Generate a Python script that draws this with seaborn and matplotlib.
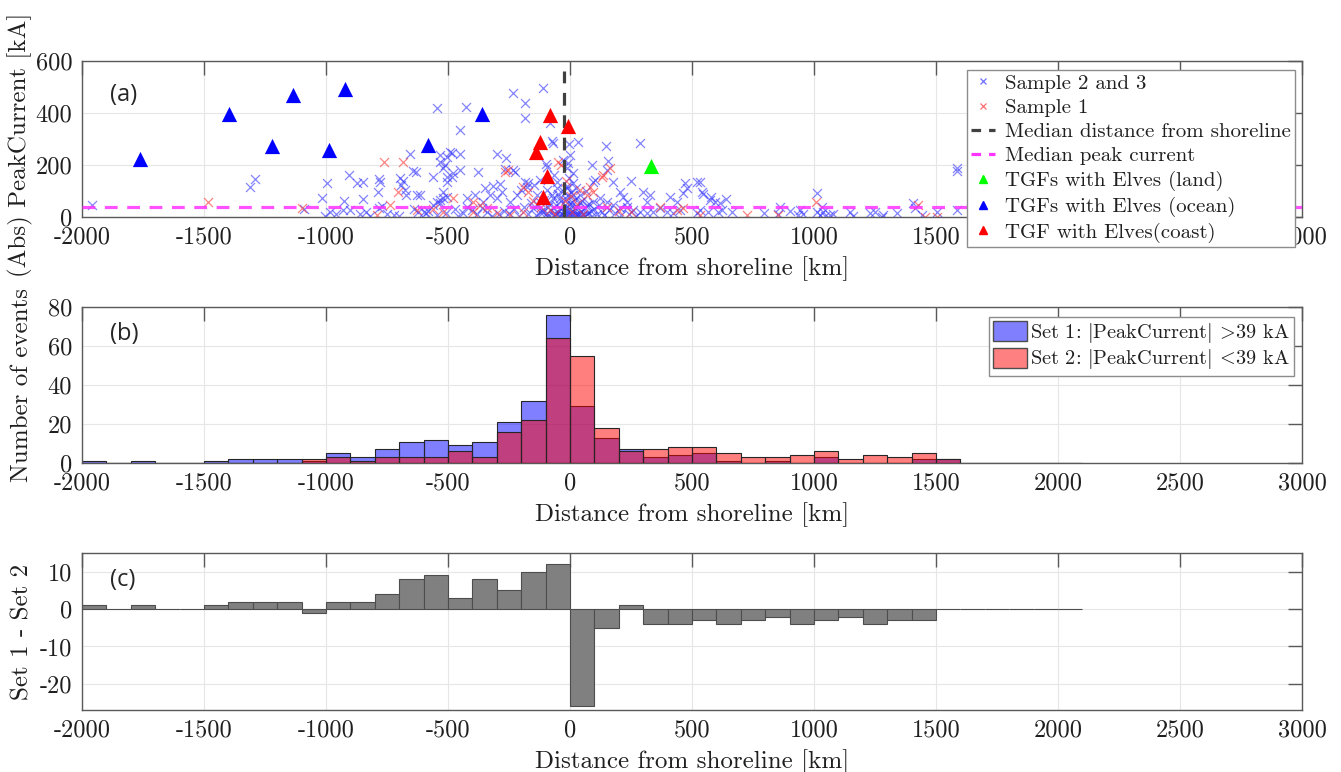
import warnings
warnings.filterwarnings("ignore")
import numpy as np
import matplotlib
matplotlib.use("Agg")
import matplotlib.pyplot as plt
import seaborn as sns
from matplotlib.lines import Line2D
from matplotlib.patches import Patch

# ---------------- data ----------------
# Panel (a): Sample 2 and 3 (blue crosses), (distance km, |peak current| kA)
s23_points = [
    (-1958, 46), (-1311, 117), (-1291, 145), (-1015, 72), (-997, 132), (-1004, 3), (-984, 20),
    (-926, 62), (-904, 161), (-929, 27), (-902, 27), (-874, 130), (-850, 136), (-847, 69),
    (-836, 20), (-786, 97), (-783, 145), (-779, 136), (-783, 35), (-770, 42), (-701, 3),
    (-697, 151), (-686, 138), (-694, 123), (-676, 104), (-670, 85), (-656, 241), (-642, 177),
    (-631, 174), (-628, 85), (-622, 20), (-615, 85), (-588, 14), (-560, 155), (-546, 418),
    (-533, 213), (-519, 187), (-533, 240), (-546, 59), (-533, 65), (-519, 72), (-505, 78),
    (-560, 46), (-533, 54), (-505, 232), (-485, 245), (-485, 155), (-512, 200), (-505, 155),
    (-519, 97), (-505, 136), (-492, 251), (-478, 168), (-451, 335), (-451, 241), (-451, 181),
    (-426, 422), (-423, 72), (-389, 85), (-376, 172), (-355, 59), (-348, 110), (-328, 85),
    (-317, 121), (-300, 72), (-298, 244), (-287, 126), (-280, 97), (-266, 183), (-262, 226),
    (-246, 59), (-235, 181), (-232, 478), (-225, 172), (-219, 85), (-199, 104), (-184, 136),
    (-183, 437), (-183, 382), (-178, 117), (-170, 130), (-147, 123), (-137, 85), (-150, 33),
    (-123, 142), (-123, 59), (-123, 20), (-112, 497), (-98, 205), (-96, 104), (-96, 14),
    (-93, 192), (-82, 360), (-75, 292), (-75, 85), (-68, 283), (-68, 33), (-66, 162),
    (-55, 136), (-55, 110), (-48, 20), (-41, 72), (-27, 8), (-20, 46), (-7, 85), (-27, 219),
    (-14, 187), (-7, 206), (0, 238), (-3, 280), (0, 14), (7, 59), (14, 168), (21, 33),
    (27, 8), (34, 290),
    (-14, 110), (14, 85), (41, 59), (68, 46), (96, 59), (123, 72), (150, 59), (178, 46),
    (205, 33), (232, 40), (259, 27), (287, 20), (314, 14), (341, 20), (369, 33), (396, 20),
    (423, 14), (451, 27),
    (89, 200), (96, 136), (103, 142), (148, 274), (150, 181), (157, 215), (178, 136),
    (205, 97), (219, 78), (232, 59), (250, 138), (287, 283), (300, 97), (314, 59), (328, 85),
    (410, 78), (437, 59), (464, 91), (471, 130), (478, 110), (519, 136), (533, 136),
    (540, 97), (546, 87), (574, 65), (580, 78), (594, 59), (615, 53), (639, 69),
    (622, 27), (608, 20), (567, 20), (533, 27), (519, 14), (663, 20), (795, 14), (861, 40),
    (854, 10), (902, 23), (943, 27), (956, 10), (936, 8), (1011, 91), (1011, 20), (1031, 40),
    (1025, 8), (1045, 5), (1066, 8), (1080, 10), (1038, 20), (1148, 20), (1161, 5),
    (1230, 14), (1250, 20), (1277, 1), (1284, 8), (1339, 14), (1407, 53), (1414, 33),
    (1441, 8), (1503, 20), (1585, 187), (1585, 176), (1585, 27),
    (-290, 10), (-270, 25), (-250, 15), (-230, 30), (-210, 5), (-190, 40), (-170, 12),
    (-160, 55), (-140, 8), (-130, 45), (-115, 25), (-105, 65), (-90, 40), (-85, 5),
    (-80, 55), (-70, 75), (-62, 15), (-58, 45), (-50, 90), (-45, 5), (-38, 30), (-35, 60),
    (-30, 100), (-25, 20), (-18, 70), (-15, 35), (-12, 120), (-8, 10), (-5, 50), (-2, 150),
    (2, 30), (5, 95), (8, 5), (10, 45), (12, 130), (18, 20), (22, 70), (25, 110), (30, 40),
    (35, 12), (40, 85), (45, 25), (50, 60), (55, 8), (60, 35), (65, 100), (72, 15), (78, 50),
    (85, 25), (92, 5), (100, 30), (110, 12), (120, 45), (130, 20), (140, 8), (160, 28),
    (185, 15), (210, 8), (240, 12), (270, 5), (-320, 5), (-340, 20), (-360, 35), (-380, 10),
    (-400, 28), (-420, 40), (-440, 15), (-460, 5), (-470, 30), (-600, 18), (-640, 30),
    (-720, 8), (-750, 12), (-820, 3), (-960, 10), (-1090, 30), (-860, 12), (-580, 25),
    (-545, 8), (-510, 15), (-60, 2), (-40, 4), (-20, 3), (0, 6), (20, 2), (40, 5), (60, 3),
    (-110, 18), (-95, 2), (-65, 4), (-33, 10), (-10, 2), (15, 8), (33, 4), (48, 2), (70, 12),
]

# Panel (a): Sample 1 (red crosses)
s1_points = [
    (-1485, 59), (-1100, 33), (-792, 8), (-761, 213), (-738, 46), (-704, 97), (-684, 213),
    (-626, 27), (-519, 20), (-478, 72), (-396, 59), (-396, 20), (-369, 46), (-342, 33),
    (-266, 175), (-253, 181), (-191, 117), (-170, 97), (-191, 20), (-246, 8), (-82, 27),
    (-48, 213), (-38, 200), (41, 104), (68, 85), (82, 117), (96, 97), (130, 155), (137, 162),
    (164, 187), (369, 40), (437, 27), (464, 33), (533, 8), (724, 8), (854, 8), (1008, 59),
    (1428, 46), (1455, 1), (1503, 1), (-60, 10), (-20, 60), (10, 20), (30, 50), (-120, 40),
    (-150, 60), (150, 40), (250, 20), (-560, 30), (-15, 140), (5, 80), (55, 10), (-300, 15),
    (200, 25),
]

# TGFs with Elves
land_x, land_y = [332], [196]
ocean_x = [-1762, -1396, -1223, -1137, -989, -922, -581, -359]
ocean_y = [223, 395, 274, 470, 258, 493, 277, 397]
coast_x = [-82, -9, -123, -141, -93, -109]
coast_y = [393, 351, 287, 251, 157, 78]

median_distance = -25      # km
median_peak = 39           # kA
peak_top = 560             # kA, top of the median-distance line

# Panel (b): histogram counts, 100 km bins from -2000 to 2100
bin_edges = list(range(-2000, 2101, 100))
set1_counts = [1, 0, 1, 0, 0, 1, 2, 2, 2, 1, 5, 3, 7, 11, 12, 9, 11, 21, 32, 76,
               29, 13, 7, 3, 4, 5, 1, 0, 1, 0, 3, 0, 0, 0, 2, 2, 0, 0, 0, 0, 0]
set2_counts = [0, 0, 0, 0, 0, 0, 0, 0, 0, 2, 3, 1, 3, 3, 3, 6, 3, 16, 22, 64,
               55, 18, 6, 7, 8, 8, 5, 3, 3, 4, 6, 2, 4, 3, 5, 2, 0, 0, 0, 0, 0]

s23_x = [p[0] for p in s23_points]
s23_y = [p[1] for p in s23_points]
s1_x = [p[0] for p in s1_points]
s1_y = [p[1] for p in s1_points]

# ---------------- style ----------------
sns.set_theme(style="white")
plt.rcParams["font.family"] = ["cmr10", "DejaVu Serif"]
plt.rcParams["mathtext.fontset"] = "cm"
plt.rcParams["axes.unicode_minus"] = False
plt.rcParams["axes.formatter.use_mathtext"] = False

TICK_FS = 17.5
LAB_FS = 18
SPINE = "0.35"
TXT = "0.12"
XLPAD = 5.5

fig = plt.figure(figsize=(13.41, 7.72), dpi=100)
axa = fig.add_axes([0.0611, 0.7189, 0.9098, 0.2021])
axb = fig.add_axes([0.0611, 0.4003, 0.9098, 0.2020])
axc = fig.add_axes([0.0611, 0.0803, 0.9098, 0.2034])


def style_axis(ax):
    ax.set_xlim(-2000, 3000)
    ax.set_xticks(range(-2000, 3001, 500))
    ax.grid(True, color="0.9", lw=0.8)
    ax.set_axisbelow(True)
    ax.tick_params(direction="in", top=True, right=True, length=10, width=1,
                   color=SPINE, labelsize=TICK_FS, pad=7, labelcolor=TXT)
    for sp in ax.spines.values():
        sp.set_color(SPINE)
        sp.set_linewidth(1)


# ---------------- panel (a) ----------------
style_axis(axa)
sns.scatterplot(x=s23_x, y=s23_y, marker="x", color=(0.2, 0.2, 1), s=42, linewidth=0.9,
                alpha=0.6, ax=axa, zorder=2)
sns.scatterplot(x=s1_x, y=s1_y, marker="x", color=(1, 0.2, 0.2), s=42, linewidth=0.9,
                alpha=0.6, ax=axa, zorder=2)
axa.axhline(median_peak, color=(1, 0.2, 1), ls=(0, (4, 3)), lw=2.3, alpha=0.85, zorder=3)
axa.plot([median_distance, median_distance], [0, peak_top], color="0.25",
         ls=(0, (4, 3)), lw=2.3, zorder=3)
sns.scatterplot(x=land_x, y=land_y, marker="^", color=(0, 1, 0), s=120, linewidth=0,
                ax=axa, zorder=4)
sns.scatterplot(x=ocean_x, y=ocean_y, marker="^", color=(0, 0, 1), s=120, linewidth=0,
                ax=axa, zorder=4)
sns.scatterplot(x=coast_x, y=coast_y, marker="^", color=(1, 0, 0), s=120, linewidth=0,
                ax=axa, zorder=4)
axa.set_ylim(0, 600)
axa.set_yticks([0, 200, 400, 600])
axa.set_xlabel("Distance from shoreline [km]", fontsize=LAB_FS, color=TXT, labelpad=XLPAD)
axa.set_ylabel("(Abs) PeakCurrent [kA]", fontsize=LAB_FS, color=TXT)
axa.yaxis.set_label_coords(-0.04, 0.46)
axa.text(0.023, 0.78, "(a)", transform=axa.transAxes, fontsize=17,
         family=["Open Sans", "DejaVu Sans"], va="center", ha="left")

handles_a = [
    Line2D([], [], ls="none", marker="x", color=(0.2, 0.2, 1), alpha=0.7, ms=4, mew=0.9),
    Line2D([], [], ls="none", marker="x", color=(1, 0.2, 0.2), alpha=0.7, ms=4, mew=0.9),
    Line2D([], [], ls=(0, (3, 2.5)), color="0.25", lw=2.3),
    Line2D([], [], ls=(0, (3, 2.5)), color=(1, 0.2, 1), lw=2.3),
    Line2D([], [], ls="none", marker="^", color=(0, 1, 0), ms=6),
    Line2D([], [], ls="none", marker="^", color=(0, 0, 1), ms=6),
    Line2D([], [], ls="none", marker="^", color=(1, 0, 0), ms=6),
]
labels_a = ["Sample 2 and 3", "Sample 1", "Median distance from shoreline",
            "Median peak current", "TGFs with Elves (land)", "TGFs with Elves (ocean)",
            "TGF with Elves(coast)"]
leg = axa.legend(handles_a, labels_a, loc="upper right", bbox_to_anchor=(0.994, 0.942),
                 fontsize=15, frameon=True, fancybox=False, framealpha=1,
                 edgecolor="0.55", handlelength=1.15, handletextpad=0.45,
                 labelspacing=0.27, borderpad=0.2, borderaxespad=0, labelcolor=TXT)
leg.get_frame().set_linewidth(1)
leg.set_zorder(10)

# ---------------- panel (b) ----------------
style_axis(axb)
centers = [e + 50 for e in bin_edges[:-1]]
sns.histplot(x=centers, weights=set1_counts, bins=bin_edges, color=(0, 0, 1), alpha=0.5,
             edgecolor="0.15", linewidth=0.8, ax=axb, zorder=2)
sns.histplot(x=centers, weights=set2_counts, bins=bin_edges, color=(1, 0, 0), alpha=0.5,
             edgecolor="0.15", linewidth=0.8, ax=axb, zorder=3)
axb.set_xlim(-2000, 3000)
axb.set_ylim(0, 80)
axb.set_yticks([0, 20, 40, 60, 80])
axb.set_ylabel("Number of events", fontsize=LAB_FS, color=TXT)
axb.yaxis.set_label_coords(-0.04, 0.5)
axb.set_xlabel("Distance from shoreline [km]", fontsize=LAB_FS, color=TXT, labelpad=XLPAD)
axb.text(0.023, 0.83, "(b)", transform=axb.transAxes, fontsize=17,
         family=["Open Sans", "DejaVu Sans"], va="center", ha="left")
handles_b = [Patch(facecolor=(0.5, 0.5, 1), edgecolor="0.3"),
             Patch(facecolor=(1, 0.5, 0.5), edgecolor="0.3")]
labels_b = [r"Set 1: $|$PeakCurrent$|$ $\!>\!$39 kA",
            r"Set 2: $|$PeakCurrent$|$ $\!<\!$39 kA"]
legb = axb.legend(handles_b, labels_b, loc="upper right", bbox_to_anchor=(0.9934, 0.936),
                  fontsize=14.6, frameon=True, fancybox=False, framealpha=1,
                  edgecolor="0.55", handlelength=1.65, handleheight=1.15, handletextpad=0.15,
                  labelspacing=0.12, borderpad=0.2, borderaxespad=0, labelcolor=TXT)

# ---------------- panel (c) ----------------
style_axis(axc)
diff = [a - b for a, b in zip(set1_counts, set2_counts)]
axc.bar(bin_edges[:-1], diff, width=100, align="edge", color="0.5",
        edgecolor="0.3", linewidth=0.8, zorder=2)
axc.set_xlim(-2000, 3000)
axc.set_ylim(-27, 15)
axc.set_yticks([-20, -10, 0, 10])
axc.set_xlabel("Distance from shoreline [km]", fontsize=LAB_FS, color=TXT, labelpad=XLPAD)
axc.set_ylabel("Set 1 - Set 2", fontsize=LAB_FS, color=TXT)
axc.yaxis.set_label_coords(-0.04, 0.5)
axc.text(0.023, 0.83, "(c)", transform=axc.transAxes, fontsize=17,
         family=["Open Sans", "DejaVu Sans"], va="center", ha="left")

fig.savefig("out.png", dpi=100)
